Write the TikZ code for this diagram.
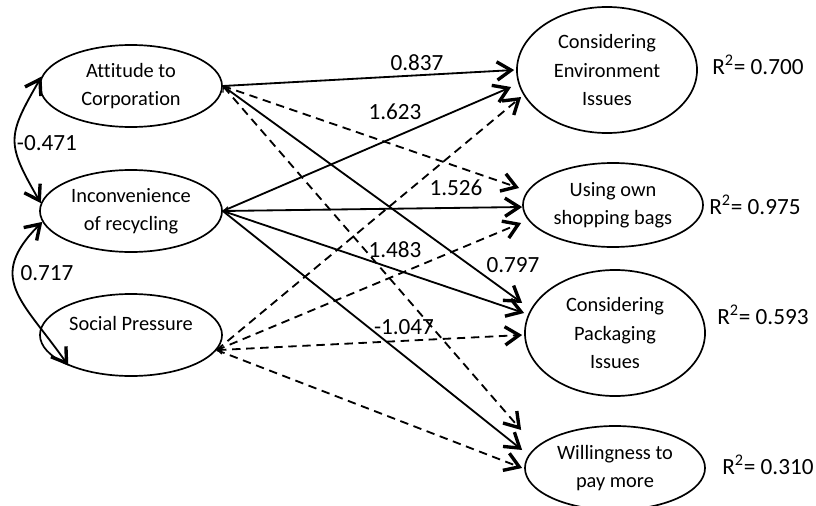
\documentclass[tikz,border=0pt]{standalone}
\usepackage{fontspec}
\setmainfont[Ligatures=NoCommon]{Carlito}
\usetikzlibrary{arrows.meta,shapes.geometric}

\tikzset{head/.tip={Straight Barb[length=10pt,width=13pt,line width=2.4pt]},
         foot/.tip={Straight Barb[length=3pt,width=6pt,line width=0.8pt]}}

\begin{document}
\begin{tikzpicture}[x=0.025cm, y=0.025cm,
  lat/.style={ellipse, draw, line width=1.2pt, inner sep=0pt, align=center,
              font=\fontsize{14.5}{20}\selectfont,
              minimum width=4.55cm, minimum height=2.05cm},
  big/.style={lat, minimum width=4.5cm, minimum height=3.15cm},
  wide/.style={lat, minimum width=4.5cm, minimum height=2.1cm},
  lbl/.style={inner sep=1pt, font=\fontsize{16.5}{19}\selectfont},
  arr/.style={line width=1.3pt, -head},
  darr/.style={arr, dash pattern=on 6pt off 4pt},
  cov/.style={line width=1.3pt, head-head, looseness=1.4}
]
  \useasboundingbox (0,0) rectangle (816,-506);

  % exogenous
  \node[lat] (att) at (131,-86)  {Attitude to\\Corporation};
  \node[lat] (inc) at (131,-211) {Inconvenience\\of recycling};
  \node[lat, text depth=17pt] (soc) at (131,-335) {Social Pressure};

  % endogenous
  \node[big]  (env)  at (607,-70)  {Considering\\Environment\\Issues};
  \node[wide] (bag)  at (613,-205) {Using own\\shopping bags};
  \node[big]  (pack) at (615,-333) {Considering\\Packaging\\Issues};
  \node[wide] (pay)  at (615,-468) {Willingness to\\pay more};

  \node[lbl] (r-env)  at (758,-65)  {R\textsuperscript{2}= 0.700};
  \node[lbl] (r-bag)  at (755,-205) {R\textsuperscript{2}= 0.975};
  \node[lbl] (r-pack) at (763,-315) {R\textsuperscript{2}= 0.593};
  \node[lbl] (r-pay)  at (768,-465) {R\textsuperscript{2}= 0.310};

  % paths
  \draw[arr]  (att.east) -- ([shift={(-2,0)}]env.west);
  \draw[darr] (att.east) -- ([shift={(-3,17)}]bag.west);
  \draw[arr]  (att.east) -- ([shift={(-2,30)}]pack.west);
  \draw[darr, foot-head] (att.east) -- ([shift={(-3,38)}]pay.west);

  \draw[arr]  (inc.east) -- ([shift={(-5,-17)}]env.west);
  \draw[arr, foot-head] (inc.east) -- ([shift={(0,-2)}]bag.west);
  \draw[arr]  (inc.east) -- ([shift={(0,20)}]pack.west);
  \draw[arr]  (inc.east) -- ([shift={(-2,18)}]pay.west);

  \draw[darr] (soc.350) -- ([shift={(5,-27)}]env.west);
  \draw[darr] (soc.350) -- ([shift={(-1,-18)}]bag.west);
  \draw[darr, foot-head] (soc.350) -- ([shift={(-2,-2)}]pack.west);
  \draw[darr] (soc.350) -- ([shift={(-2,0)}]pay.west);

  \node[lbl] (w-att-env)  at (417,-63)  {0.837};
  \node[lbl] (w-inc-env)  at (395,-112) {1.623};
  \node[lbl] (w-inc-bag)  at (456,-188) {1.526};
  \node[lbl] (w-inc-pack) at (395,-250) {1.483};
  \node[lbl] (w-att-pack) at (513,-265) {0.797};
  \node[lbl] (w-inc-pay)  at (404,-327) {-1.047};

  % covariances
  \draw[cov] (att.174) to[out=240, in=120] (inc.175);
  \draw[cov] (inc.187) to[out=225, in=125] (soc.206);
  \node[lbl] (c-att-inc) at (47,-143) {-0.471};
  \node[lbl] (c-inc-soc) at (47,-273) {0.717};
\end{tikzpicture}
\end{document}
